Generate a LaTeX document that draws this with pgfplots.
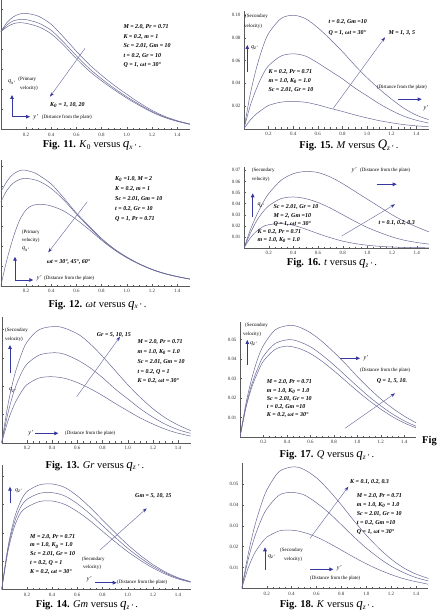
\documentclass[border=0pt]{standalone}
\usepackage{fontspec}
\setmainfont{Liberation Serif}
\usepackage{pgfplots}
\pgfplotsset{compat=1.18}
\usetikzlibrary{arrows.meta}

\definecolor{curvecol}{RGB}{105,105,152}
\definecolor{axgray}{RGB}{90,90,90}
\definecolor{arrblue}{RGB}{55,55,160}
\definecolor{parline}{RGB}{110,110,165}

\pgfplotsset{
  panel/.style={
    scale only axis, axis lines=left,
    axis line style={-, draw=axgray, line width=0.4pt},
    tick style={axgray, line width=0.3pt},
    major tick length=2.4bp, minor tick length=1.3bp,
    tick align=inside,
    xmin=0, xmax=1.5, ymin=0,
    xtick={0.2,0.4,0.6,0.8,1.0,1.2,1.4},
    minor x tick num=3,
    scaled x ticks=false, scaled y ticks=false,
    tick label style={font=\fontsize{5}{6}\selectfont, text=black!80},
    xticklabel style={/pgf/number format/fixed, /pgf/number format/fixed zerofill, /pgf/number format/precision=1, /pgf/number format/assume math mode=true},
    yticklabel style={/pgf/number format/fixed, /pgf/number format/fixed zerofill, /pgf/number format/precision=2, /pgf/number format/assume math mode=true},
  },
  nolabels/.style={yticklabels={}},
  vel/.style={draw=curvecol, line width=0.5pt, smooth, no marks},
}

\tikzset{
  anno/.style={anchor=north west, inner sep=0pt, align=left, font=\fontsize{6}{#1}\selectfont\bfseries\itshape},
  annoone/.style={anchor=west, inner sep=0pt, font=\fontsize{6}{7}\selectfont\bfseries\itshape},
  sm/.style={anchor=west, inner sep=0pt, font=\fontsize{5}{6}\selectfont},
  qlab/.style={anchor=west, inner sep=0pt, font=\fontsize{6}{7}\selectfont\itshape},
  par/.style={draw=parline, line width=0.45pt, -{Stealth[length=4.5pt, width=3.2pt, color=arrblue]}},
  ind/.style={draw=arrblue, line width=0.8pt, -{Triangle[length=4pt, width=3.6pt]}},
  figcap/.style={inner sep=0pt, font=\fontsize{10.5}{12}\selectfont},
}
\newcommand{\qv}[2]{{\fontsize{13}{13}\selectfont\itshape #1}\textsubscript{\itshape #2\,'}}

\begin{document}
\begin{tikzpicture}[x=1bp, y=-1bp]
\path[use as bounding box] (0,0) rectangle (438,614);

% ---------------- Fig. 11: K0 versus primary velocity
\begin{axis}[panel, nolabels, at={(0.8bp,-129.3bp)}, anchor=south west, width=189bp, height=129.3bp,
  ymax=1.293, ytick={0.2,0.4,0.6,0.8,1.0,1.2}, minor y tick num=3]
\addplot[vel] coordinates {(0,0.976)(0.05,1.07)(0.1,1.125)(0.15,1.153)(0.2,1.16)(0.3,1.13)(0.4,1.05)(0.5,0.92)(0.6,0.78)(0.7,0.65)(0.8,0.54)(0.9,0.44)(1.0,0.35)(1.1,0.265)(1.2,0.19)(1.3,0.13)(1.4,0.086)(1.5,0.053)};
\addplot[vel] coordinates {(0,0.976)(0.05,1.045)(0.1,1.085)(0.16,1.10)(0.2,1.097)(0.3,1.062)(0.4,0.99)(0.5,0.87)(0.6,0.735)(0.7,0.61)(0.8,0.505)(0.9,0.41)(1.0,0.325)(1.1,0.248)(1.2,0.178)(1.3,0.122)(1.4,0.082)(1.5,0.051)};
\addplot[vel] coordinates {(0,0.976)(0.05,1.025)(0.1,1.056)(0.145,1.066)(0.2,1.06)(0.3,1.025)(0.4,0.955)(0.5,0.84)(0.6,0.705)(0.7,0.585)(0.8,0.485)(0.9,0.395)(1.0,0.312)(1.1,0.238)(1.2,0.171)(1.3,0.118)(1.4,0.08)(1.5,0.05)};
\end{axis}
\node[anno=9.5] at (123.3,24.7) {M = 2.0, Pr = 0.71\\K = 0.2, m = 1\\Sc = 2.01, Gm = 10\\t = 0.2, Gr = 10\\Q = 1, ωt = 30°};
\node[qlab] at (8,82) {q\textsubscript{x'}};
\node[sm] at (18.3,79) {(Primary};
\node[sm] at (20,88.3) {velocity)};
\draw[ind] (12,116.7) -- (12,95);
\draw[ind] (12,116.7) -- (30,116.7);
\node[qlab] at (33.3,117.3) {y'};
\node[sm] at (41.7,117.3) {(Distance from the plate)};
\draw[par] (85,48.3) -- (50,96.7);
\node[annoone] at (50,105) {K\textsubscript{0} = 1, 10, 20};
\node[figcap] at (92,145.7) {\textbf{Fig. 11.} \textit{K}\textsubscript{0} versus \qv{q}{x}\,.};

% ---------------- Fig. 15: M versus secondary velocity
\begin{axis}[panel, at={(244bp,-128.7bp)}, anchor=south west, width=184.5bp, height=118bp,
  ymax=0.104, ytick={0.02,0.04,0.06,0.08,0.10}, minor y tick num=3]
\addplot[vel] coordinates {(0,0)(0.05,0.03)(0.1,0.053)(0.15,0.071)(0.2,0.084)(0.3,0.097)(0.4,0.100)(0.5,0.097)(0.6,0.089)(0.7,0.079)(0.8,0.068)(0.9,0.056)(1.0,0.045)(1.1,0.035)(1.2,0.026)(1.3,0.018)(1.4,0.012)(1.5,0.008)};
\addplot[vel] coordinates {(0,0)(0.05,0.02)(0.1,0.035)(0.15,0.047)(0.2,0.0555)(0.3,0.064)(0.4,0.066)(0.5,0.064)(0.6,0.058)(0.7,0.051)(0.8,0.044)(0.9,0.036)(1.0,0.029)(1.1,0.022)(1.2,0.016)(1.3,0.011)(1.4,0.0075)(1.5,0.005)};
\addplot[vel] coordinates {(0,0)(0.05,0.0075)(0.1,0.013)(0.15,0.017)(0.2,0.0205)(0.3,0.0234)(0.4,0.024)(0.5,0.0233)(0.6,0.021)(0.7,0.018)(0.8,0.0152)(0.9,0.0122)(1.0,0.0095)(1.1,0.0071)(1.2,0.0052)(1.3,0.0036)(1.4,0.0025)(1.5,0.0018)};
\end{axis}
\node[sm] at (245,16.7) {(Secondary};
\node[sm] at (244,26) {velocity)};
\draw[ind] (247.3,71.7) -- (247.3,45);
\node[qlab] at (251,47.7) {q\textsubscript{z'}};
\node[anno=11] at (328.3,19.7) {t = 0.2, Gm =10\\Q = 1, ωt = 30°};
\node[annoone] at (388.3,32.7) {M = 1, 3, 5};
\draw[par] (333.3,108.3) -- (385,37.3);
\node[anno=9.2] at (268.3,69) {K = 0.2, Pr = 0.71\\m = 1.0, K\textsubscript{0} = 1.0\\Sc = 2.01, Gr = 10};
\node[sm] at (376.7,87.3) {(Distance from the plate)};
\draw[ind] (398.3,99.3) -- (421.7,99.3);
\node[qlab] at (423.3,108.3) {y'};
\node[figcap] at (349,145.7) {\textbf{Fig. 15.} \textit{M} versus \qv{Q}{z}\,.};

% ---------------- Fig. 12: omega t versus primary velocity
\begin{axis}[panel, nolabels, at={(0.8bp,-286bp)}, anchor=south west, width=189bp, height=126bp,
  ymax=1.26, ytick={0.2,0.4,0.6,0.8,1.0,1.2}, minor y tick num=3]
\addplot[vel] coordinates {(0,0.94)(0.05,1.05)(0.1,1.12)(0.17,1.16)(0.25,1.14)(0.3,1.11)(0.4,1.02)(0.5,0.88)(0.6,0.73)(0.7,0.6)(0.8,0.475)(0.9,0.372)(1.0,0.29)(1.1,0.222)(1.2,0.167)(1.3,0.126)(1.4,0.095)(1.5,0.07)};
\addplot[vel] coordinates {(0,0.84)(0.05,0.96)(0.1,1.03)(0.15,1.065)(0.2,1.077)(0.3,1.05)(0.4,0.975)(0.5,0.86)(0.6,0.72)(0.7,0.59)(0.8,0.468)(0.9,0.367)(1.0,0.286)(1.1,0.219)(1.2,0.165)(1.3,0.124)(1.4,0.094)(1.5,0.069)};
\addplot[vel] coordinates {(0,0)(0.025,0.14)(0.05,0.27)(0.1,0.49)(0.15,0.66)(0.2,0.76)(0.25,0.805)(0.32,0.817)(0.4,0.8)(0.5,0.75)(0.6,0.665)(0.7,0.565)(0.8,0.458)(0.9,0.362)(1.0,0.283)(1.1,0.218)(1.2,0.164)(1.3,0.123)(1.4,0.093)(1.5,0.069)};
\end{axis}
\node[anno=10] at (115,176.3) {K\textsubscript{0} =1.0, M = 2\\K = 0.2, m = 1\\Sc = 2.01, Gm = 10\\t = 0.2, Gr = 10\\Q = 1, Pr = 0.71};
\node[sm] at (21.7,232.3) {(Primary};
\node[sm] at (21.7,240) {velocity)};
\node[qlab] at (22,249) {q\textsubscript{x'}};
\draw[ind] (15,280) -- (15,256.7);
\draw[ind] (15,280) -- (33.3,280);
\node[qlab] at (36.7,278.3) {y'};
\node[sm] at (44,278.3) {(Distance from the plate)};
\draw[par] (87.3,201.7) -- (48.3,252.3);
\node[annoone] at (46.7,262.3) {ωt = 30°, 45°, 60°};
\node[figcap] at (97.5,305) {\textbf{Fig. 12.} \textit{ωt} versus \qv{q}{x}\,.};

% ---------------- Fig. 16: t versus secondary velocity
\begin{axis}[panel, at={(244bp,-248bp)}, anchor=south west, width=185bp, height=81bp,
  ymax=0.073, ytick={0.01,0.02,0.03,0.04,0.05,0.06,0.07}, minor y tick num=4]
\addplot[vel] coordinates {(0,0)(0.05,0.016)(0.1,0.029)(0.15,0.04)(0.2,0.049)(0.3,0.061)(0.4,0.067)(0.5,0.069)(0.6,0.068)(0.7,0.064)(0.8,0.058)(0.9,0.051)(1.0,0.044)(1.1,0.037)(1.2,0.03)(1.3,0.024)(1.4,0.019)(1.5,0.0145)};
\addplot[vel] coordinates {(0,0)(0.05,0.013)(0.1,0.024)(0.15,0.032)(0.2,0.038)(0.3,0.0445)(0.4,0.046)(0.5,0.0445)(0.6,0.041)(0.7,0.036)(0.8,0.030)(0.9,0.024)(1.0,0.0185)(1.1,0.014)(1.2,0.010)(1.3,0.007)(1.4,0.005)(1.5,0.0035)};
\addplot[vel] coordinates {(0,0)(0.05,0.009)(0.1,0.015)(0.15,0.019)(0.2,0.021)(0.3,0.022)(0.4,0.0205)(0.5,0.017)(0.6,0.013)(0.7,0.0093)(0.8,0.0062)(0.9,0.0040)(1.0,0.0025)(1.1,0.0015)(1.2,0.0009)(1.3,0.0005)(1.4,0.0003)(1.5,0.0002)};
\end{axis}
\node[sm] at (251.7,170) {(Secondary};
\node[sm] at (251.7,179) {velocity)};
\draw[ind] (252.7,216.7) -- (252.7,193.3);
\node[qlab] at (257.3,205) {q\textsubscript{z'}};
\node[qlab] at (351.7,170) {y'};
\node[sm] at (360,170) {(Distance from the plate)};
\draw[ind] (376.7,184.3) -- (396.7,184.3);
\node[annoone] at (378.3,223.3) {t = 0.1, 0.2, 0.3};
\draw[par] (341.7,236) -- (395,204.3);
\node[anno=8.3] at (273.3,204.7) {Sc = 2.01, Gr = 10\\M = 2, Gm =10\\Q = 1, ωt = 30°};
\node[anno=8] at (257.3,229) {K = 0.2, Pr = 0.71\\m = 1.0, K\textsubscript{0} = 1.0};
\node[figcap] at (332,263.3) {\textbf{Fig. 16.} \textit{t} versus \qv{q}{z}\,.};

% ---------------- Fig. 13: Gr versus secondary velocity
\begin{axis}[panel, nolabels, at={(1.7bp,-442.7bp)}, anchor=south west, width=189bp, height=126bp,
  ymax=0.089, ytick={0.02,0.04,0.06,0.08}, minor y tick num=3]
\addplot[vel] coordinates {(0,0)(0.05,0.027)(0.1,0.047)(0.15,0.061)(0.2,0.071)(0.3,0.080)(0.45,0.082)(0.6,0.077)(0.7,0.070)(0.8,0.061)(0.9,0.051)(1.0,0.041)(1.1,0.032)(1.2,0.024)(1.3,0.0175)(1.4,0.0125)(1.5,0.0085)};
\addplot[vel] coordinates {(0,0)(0.05,0.021)(0.1,0.037)(0.15,0.048)(0.2,0.0555)(0.3,0.062)(0.42,0.0636)(0.5,0.0625)(0.6,0.0585)(0.7,0.053)(0.8,0.046)(0.9,0.038)(1.0,0.031)(1.1,0.024)(1.2,0.018)(1.3,0.013)(1.4,0.0092)(1.5,0.0066)};
\addplot[vel] coordinates {(0,0)(0.05,0.0155)(0.1,0.027)(0.15,0.035)(0.2,0.041)(0.3,0.0458)(0.4,0.0466)(0.5,0.0455)(0.6,0.0425)(0.7,0.0383)(0.8,0.0333)(0.9,0.0278)(1.0,0.0225)(1.1,0.0175)(1.2,0.0132)(1.3,0.0095)(1.4,0.0067)(1.5,0.0047)};
\end{axis}
\node[sm] at (5,330) {(Secondary};
\node[sm] at (5,339.3) {velocity)};
\draw[ind] (10,373.3) -- (10,345);
\node[qlab] at (9,390) {q\textsubscript{z'}};
\node[qlab] at (28.3,433.3) {y'};
\draw[ind] (35,433.3) -- (58.3,433.3);
\node[sm] at (65,433.3) {(Distance from the plate)};
\node[annoone] at (96.7,335) {Gr = 5, 10, 15};
\draw[par] (76.7,396.7) -- (120,336.7);
\node[anno=9.8] at (137.3,339.7) {M = 2.0, Pr = 0.71\\m = 1.0, K\textsubscript{0} = 1.0\\Sc = 2.01, Gm = 10\\t = 0.2, Q = 1\\K = 0.2, ωt = 30°};
\node[figcap] at (95,466) {\textbf{Fig. 13.} \textit{Gr} versus \qv{q}{z}\,.};

% ---------------- Fig. 17: Q versus secondary velocity
\begin{axis}[panel, at={(240bp,-437bp)}, anchor=south west, width=176bp, height=115bp,
  ymax=0.059, ytick={0.01,0.02,0.03,0.04,0.05}, minor y tick num=4]
\addplot[vel] coordinates {(0,0)(0.05,0.017)(0.1,0.03)(0.15,0.040)(0.2,0.047)(0.3,0.055)(0.42,0.0573)(0.5,0.0565)(0.6,0.0535)(0.7,0.049)(0.8,0.0435)(0.9,0.0375)(1.0,0.031)(1.1,0.025)(1.2,0.0195)(1.3,0.0148)(1.4,0.0107)(1.5,0.0073)};
\addplot[vel] coordinates {(0,0)(0.05,0.0155)(0.1,0.027)(0.15,0.035)(0.2,0.0415)(0.3,0.048)(0.42,0.050)(0.5,0.049)(0.6,0.0463)(0.7,0.042)(0.8,0.037)(0.9,0.0315)(1.0,0.026)(1.1,0.0207)(1.2,0.016)(1.3,0.0118)(1.4,0.0083)(1.5,0.0055)};
\addplot[vel] coordinates {(0,0)(0.05,0.0148)(0.1,0.0255)(0.15,0.033)(0.2,0.039)(0.3,0.045)(0.4,0.0466)(0.5,0.0455)(0.6,0.0428)(0.7,0.0388)(0.8,0.034)(0.9,0.0288)(1.0,0.0236)(1.1,0.0187)(1.2,0.0143)(1.3,0.0104)(1.4,0.0072)(1.5,0.0047)};
\end{axis}
\node[sm] at (245,325) {(Secondary};
\node[sm] at (243,334.3) {velocity)};
\node[qlab] at (250,343.3) {q\textsubscript{z'}};
\draw[ind] (247.3,365) -- (247.3,340);
\draw[ind] (340,358.3) -- (360,358.3);
\node[qlab] at (363.3,358.3) {y'};
\node[sm] at (360,370) {(Distance from the plate)};
\node[annoone] at (376.7,380.7) {Q = 1, 5, 10.};
\draw[par] (345,428.3) -- (395,393.3);
\node[anno=8.3] at (266.7,379.7) {M = 2.0, Pr = 0.71\\m = 1.0, K\textsubscript{0} = 1.0\\Sc = 2.01, Gr = 10\\t = 0.2, Gm =10\\K = 0.2, ωt = 30°};
\node[anchor=west, inner sep=0pt, font=\fontsize{10.5}{12}\selectfont\bfseries] at (422,441.5) {Fig};
\node[figcap] at (327,455.7) {\textbf{Fig. 17.} \textit{Q} versus \qv{q}{z}\,.};

% ---------------- Fig. 14: Gm versus secondary velocity
\begin{axis}[panel, nolabels, at={(1.7bp,-589.3bp)}, anchor=south west, width=189bp, height=124bp,
  ymax=0.0876, ytick={0.02,0.04,0.06,0.08}, minor y tick num=3]
\addplot[vel] coordinates {(0,0)(0.05,0.03)(0.1,0.05)(0.15,0.062)(0.2,0.069)(0.3,0.0738)(0.4,0.0744)(0.5,0.072)(0.6,0.066)(0.7,0.058)(0.8,0.049)(0.9,0.04)(1.0,0.0315)(1.1,0.024)(1.2,0.0175)(1.3,0.0122)(1.4,0.0082)(1.5,0.0054)};
\addplot[vel] coordinates {(0,0)(0.05,0.0285)(0.1,0.047)(0.15,0.058)(0.2,0.0635)(0.3,0.0678)(0.4,0.0683)(0.5,0.066)(0.6,0.0605)(0.7,0.0533)(0.8,0.045)(0.9,0.0368)(1.0,0.029)(1.1,0.0222)(1.2,0.0163)(1.3,0.0115)(1.4,0.0078)(1.5,0.0052)};
\addplot[vel] coordinates {(0,0)(0.05,0.027)(0.1,0.044)(0.15,0.054)(0.2,0.058)(0.3,0.062)(0.4,0.0624)(0.5,0.060)(0.6,0.055)(0.7,0.0485)(0.8,0.041)(0.9,0.0336)(1.0,0.0266)(1.1,0.0205)(1.2,0.0151)(1.3,0.0107)(1.4,0.0073)(1.5,0.005)};
\end{axis}
\node[qlab] at (15,490.7) {q\textsubscript{z'}};
\draw[ind] (10,503.3) -- (10,486.7);
\node[annoone] at (135,496) {Gm = 5, 10, 15};
\draw[par] (100,550) -- (146.7,508.3);
\node[anno=8.75] at (30,534) {M = 2.0, Pr = 0.71\\m = 1.0, K\textsubscript{0} = 1.0\\Sc = 2.01, Gr = 10\\t = 0.2, Q = 1\\K = 0.2, ωt = 30°};
\node[sm] at (81.7,559.3) {(Secondary};
\node[sm] at (83,567.3) {velocity)};
\node[qlab] at (86.7,579.3) {y'};
\draw[ind] (95,582.7) -- (116.7,582.7);
\node[sm] at (117,582.7) {(Distance from the plate)};
\node[figcap] at (87,605.7) {\textbf{Fig. 14.} \textit{Gm} versus \qv{q}{z}\,.};

% ---------------- Fig. 18: K versus secondary velocity
\begin{axis}[panel, at={(241.8bp,-588.2bp)}, anchor=south west, width=186.6bp, height=125bp,
  ymax=0.060, ytick={0.01,0.02,0.03,0.04,0.05}, minor y tick num=4]
\addplot[vel] coordinates {(0,0)(0.05,0.016)(0.1,0.029)(0.15,0.039)(0.2,0.047)(0.3,0.056)(0.42,0.0583)(0.5,0.057)(0.6,0.053)(0.7,0.047)(0.8,0.040)(0.9,0.0325)(1.0,0.0255)(1.1,0.0193)(1.2,0.014)(1.3,0.0098)(1.4,0.0068)(1.5,0.0047)};
\addplot[vel] coordinates {(0,0)(0.05,0.0135)(0.1,0.024)(0.15,0.032)(0.2,0.038)(0.3,0.0447)(0.4,0.046)(0.5,0.0448)(0.6,0.041)(0.7,0.0362)(0.8,0.0305)(0.9,0.0247)(1.0,0.0193)(1.1,0.0146)(1.2,0.0106)(1.3,0.0075)(1.4,0.0051)(1.5,0.0035)};
\addplot[vel] coordinates {(0,0)(0.05,0.0095)(0.1,0.0165)(0.15,0.021)(0.2,0.0245)(0.3,0.0275)(0.37,0.0279)(0.45,0.0275)(0.55,0.0258)(0.65,0.0232)(0.75,0.0200)(0.85,0.0166)(0.95,0.0133)(1.05,0.0103)(1.15,0.0077)(1.25,0.0055)(1.35,0.0038)(1.5,0.0019)};
\end{axis}
\node[annoone] at (350,481.7) {K = 0.1, 0.2, 0.3};
\draw[par] (310,538.3) -- (348.3,486.7);
\node[anno=9] at (356.7,493) {M = 2.0, Pr = 0.71\\m = 1.0, K\textsubscript{0} = 1.0\\Sc = 2.01, Gr = 10\\t = 0.2, Gm =10\\Q = 1, ωt = 30°};
\draw[ind] (265,570) -- (265,547.3);
\node[qlab] at (268,556.7) {q\textsubscript{z'}};
\node[sm] at (280,550) {(Secondary};
\node[sm] at (284,559) {velocity)};
\draw[ind] (310,569.3) -- (333.3,569.3);
\node[qlab] at (336.7,568.3) {y'};
\node[sm] at (310,578.3) {(Distance from the plate)};
\node[figcap] at (327,605.7) {\textbf{Fig. 18.} \textit{K} versus \qv{q}{z}\,.};

\end{tikzpicture}
\end{document}
